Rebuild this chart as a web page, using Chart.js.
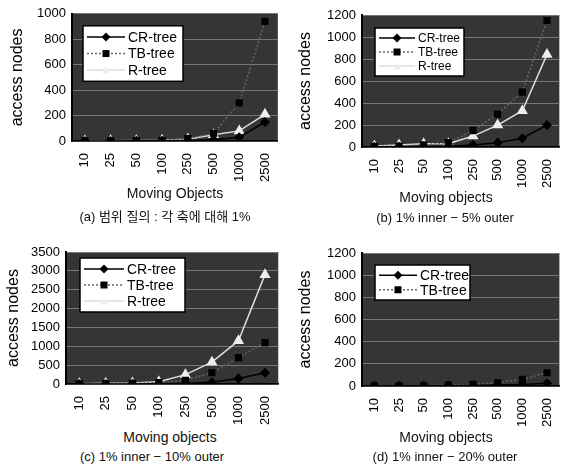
<!DOCTYPE html>
<html>
<head>
<meta charset="utf-8">
<script src="https://cdn.jsdelivr.net/npm/chart.js@4/dist/chart.umd.min.js"></script>
<style>
  body { margin: 0; background: #fff; font-family: "Liberation Sans", Arial, sans-serif; }
  #wrap { position: relative; width: 567px; height: 464px; overflow: hidden; }
  .c { position: absolute; }
  .t { position: absolute; transform: translateX(-50%); white-space: nowrap; color: #111; font-size: 14px; }
  .cap { font-size: 13px; font-family: "Liberation Sans", "Noto Sans CJK KR", sans-serif; }
</style>
</head>
<body>
<div id="wrap">
  <canvas id="ca" class="c" width="285" height="186" style="left:0;top:0"></canvas>
  <canvas id="cb" class="c" width="282" height="192" style="left:285px;top:0"></canvas>
  <canvas id="cc" class="c" width="285" height="197" style="left:0;top:232px"></canvas>
  <canvas id="cd" class="c" width="282" height="199" style="left:285px;top:232px"></canvas>
  <div class="t" style="left:175px;top:185px">Moving Objects</div>
  <div class="t cap" style="left:165px;top:206px">(a) 범위 질의 : 각 축에 대해 1%</div>
  <div class="t" style="left:446px;top:189px">Moving objects</div>
  <div class="t cap" style="left:445px;top:210px">(b) 1% inner − 5% outer</div>
  <div class="t" style="left:170px;top:429px">Moving objects</div>
  <div class="t cap" style="left:152px;top:449px">(c) 1% inner − 10% outer</div>
  <div class="t" style="left:446px;top:429px">Moving objects</div>
  <div class="t cap" style="left:445px;top:449px">(d) 1% inner − 20% outer</div>
</div>
<script>
// x categories (number of moving objects)
const categories = ['10', '25', '50', '100', '250', '500', '1000', '2500'];

// y tick values per panel
const yTicksA = [0, 200, 400, 600, 800, 1000];
const yTicksB = [0, 200, 400, 600, 800, 1000, 1200];
const yTicksC = [0, 500, 1000, 1500, 2000, 2500, 3000, 3500];
const yTicksD = [0, 200, 400, 600, 800, 1000, 1200];

// (a) range query, 1% per axis
const crA = [1, 1, 2, 3, 5, 10, 30, 150];
const tbA = [1, 2, 3, 5, 20, 60, 300, 940];
const rA  = [2, 3, 4, 6, 15, 50, 80, 210];

// (b) 1% inner - 5% outer
const crB = [2, 3, 5, 8, 20, 40, 80, 200];
const tbB = [5, 10, 20, 40, 150, 300, 500, 1150];
const rB  = [10, 20, 30, 30, 100, 200, 330, 840];

// (c) 1% inner - 10% outer
const crC = [2, 3, 5, 10, 20, 50, 150, 300];
const tbC = [5, 10, 20, 40, 100, 300, 700, 1100];
const rC  = [10, 20, 30, 60, 250, 580, 1150, 2900];

// (d) 1% inner - 20% outer
const crD = [1, 2, 3, 4, 6, 10, 15, 25];
const tbD = [2, 3, 5, 8, 15, 30, 60, 120];

const FONT = '"Liberation Sans", Arial, sans-serif';

const styles = {
  cr: { label: 'CR-tree', borderColor: '#000', backgroundColor: '#000', pointStyle: 'rectRot', pointRadius: 4, borderDash: [] },
  tb: { label: 'TB-tree', borderColor: '#666', backgroundColor: '#000', pointStyle: 'rect', pointRadius: 4, borderDash: [2, 2] },
  r:  { label: 'R-tree', borderColor: '#ddd', backgroundColor: '#eee', pointStyle: 'triangle', pointRadius: 5, borderDash: [] }
};

function series(key, data) {
  const s = styles[key];
  return {
    label: s.label, data: data,
    borderColor: s.borderColor, backgroundColor: s.backgroundColor,
    pointBorderColor: s.backgroundColor, pointBackgroundColor: s.backgroundColor,
    pointStyle: s.pointStyle, pointRadius: s.pointRadius,
    borderDash: s.borderDash, borderWidth: 1.5, tension: 0
  };
}

// dark scanned plot area
const plotBg = {
  id: 'plotBg',
  beforeDraw(chart) {
    const { ctx, chartArea: a } = chart;
    ctx.save();
    ctx.fillStyle = '#353535';
    ctx.fillRect(a.left, a.top, a.right - a.left, a.bottom - a.top);
    ctx.restore();
  }
};

function marker(ctx, style, x, y, r) {
  ctx.beginPath();
  if (style === 'rect') ctx.rect(x - r, y - r, 2 * r, 2 * r);
  else if (style === 'rectRot') { ctx.moveTo(x, y - r - 1); ctx.lineTo(x + r + 1, y); ctx.lineTo(x, y + r + 1); ctx.lineTo(x - r - 1, y); ctx.closePath(); }
  else { ctx.moveTo(x, y - r); ctx.lineTo(x + r, y + r * 0.8); ctx.lineTo(x - r, y + r * 0.8); ctx.closePath(); }
  ctx.fill();
}

// boxed legend inside the plot
const boxLegend = {
  id: 'boxLegend',
  afterDraw(chart, args, o) {
    const { ctx, chartArea: a } = chart;
    const ds = chart.data.datasets;
    const x = a.left + o.dx, y = a.top + o.dy;
    const h = ds.length * o.row + 6;
    ctx.save();
    ctx.fillStyle = '#fff';
    ctx.fillRect(x, y, o.w, h);
    ctx.strokeStyle = '#000';
    ctx.lineWidth = 1.5;
    ctx.strokeRect(x, y, o.w, h);
    ctx.font = o.size + 'px ' + FONT;
    ctx.textBaseline = 'middle';
    ds.forEach((d, i) => {
      const cy = y + 3 + o.row * (i + 0.5);
      ctx.strokeStyle = d.borderColor;
      ctx.setLineDash(d.borderDash);
      ctx.lineWidth = 1.5;
      ctx.beginPath();
      ctx.moveTo(x + 4, cy);
      ctx.lineTo(x + 4 + o.line, cy);
      ctx.stroke();
      ctx.setLineDash([]);
      ctx.fillStyle = d.pointBackgroundColor;
      marker(ctx, d.pointStyle, x + 4 + o.line / 2, cy, d.pointStyle === 'triangle' ? 4 : 3.5);
      ctx.fillStyle = '#000';
      ctx.fillText(d.label, x + 7 + o.line, cy + 1);
    });
    ctx.restore();
  }
};

function makeChart(id, datasets, yTicks, yw, pad, legend) {
  new Chart(document.getElementById(id), {
    type: 'line',
    data: { labels: categories, datasets: datasets },
    plugins: [plotBg, boxLegend],
    options: {
      responsive: false,
      animation: false,
      layout: { padding: pad },
      plugins: { legend: { display: false }, tooltip: { enabled: false }, boxLegend: legend },
      scales: {
        x: {
          offset: true,
          grid: { display: false },
          border: { color: '#000', width: 1.5 },
          ticks: { color: '#000', font: { family: FONT, size: 13 }, minRotation: 90, maxRotation: 90, padding: 4 }
        },
        y: {
          min: yTicks[0], max: yTicks[yTicks.length - 1],
          afterFit(s) { s.width = yw; },
          afterBuildTicks(s) { s.ticks = yTicks.map(v => ({ value: v })); },
          grid: { color: '#777', lineWidth: 1, drawTicks: false },
          border: { color: '#000', width: 2 },
          ticks: { color: '#000', font: { family: FONT, size: 13 }, padding: 6, callback: v => String(v) },
          title: { display: true, text: 'access nodes', color: '#000', font: { family: FONT, size: 16 }, padding: 0 }
        }
      }
    }
  });
}

makeChart('ca', [series('cr', crA), series('tb', tbA), series('r', rA)], yTicksA, 64,
  { top: 13, right: 7, left: 8, bottom: 0 }, { dx: 11, dy: 12, w: 100, row: 16.5, size: 14, line: 38 });
makeChart('cb', [series('cr', crB), series('tb', tbB), series('r', rB)], yTicksB, 66,
  { top: 15, right: 0, left: 11, bottom: 0 }, { dx: 13, dy: 13, w: 89, row: 14, size: 12, line: 36 });
makeChart('cc', [series('cr', crC), series('tb', tbC), series('r', rC)], yTicksC, 62,
  { top: 20, right: 5, left: 4, bottom: 0 }, { dx: 14, dy: 6, w: 105, row: 16, size: 14, line: 40 });
makeChart('cd', [series('cr', crD), series('tb', tbD)], yTicksD, 66,
  { top: 21, right: 0, left: 11, bottom: 0 }, { dx: 13, dy: 12, w: 95, row: 14.5, size: 14, line: 38 });
</script>
</body>
</html>
